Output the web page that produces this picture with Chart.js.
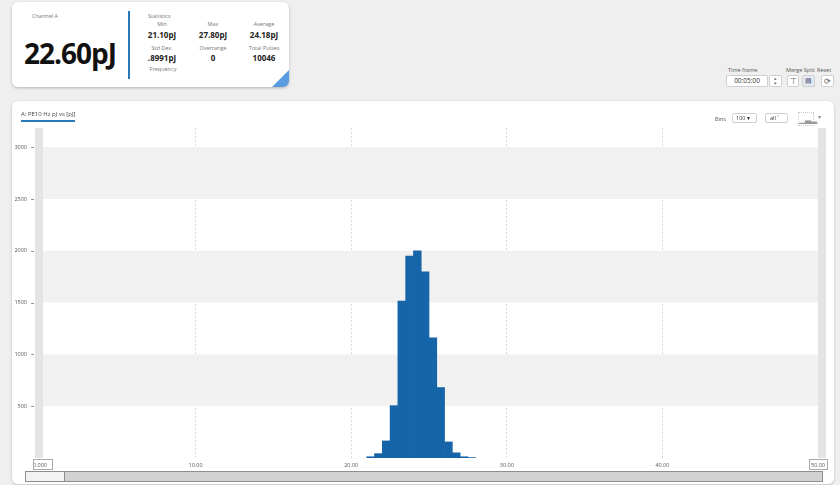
<!DOCTYPE html>
<html>
<head>
<meta charset="utf-8">
<script src="https://cdn.jsdelivr.net/npm/chart.js@4.4.1/dist/chart.umd.min.js"></script>
<style>
  html, body { margin: 0; padding: 0; }
  body { width: 840px; height: 485px; background: #efefef; position: relative; overflow: hidden;
         font-family: "Open Sans", "Noto Sans", sans-serif; color: #333; }
  .abs { position: absolute; }
  .card { left: 12px; top: 2px; width: 277px; height: 85px; background: #fff; border-radius: 6px;
          box-shadow: 0 1px 3px rgba(0,0,0,0.25); overflow: hidden; }
  .lbl { font-size: 5.5px; color: #777; white-space: nowrap; transform: translate(-50%, -50%); }
  .val { font-size: 8px; font-weight: 700; color: #222; white-space: nowrap; transform: translate(-50%, -50%); }
  .big { left: 12px; top: 32px; font-size: 28px; font-weight: 700; color: #111; letter-spacing: -1px; }
  .vbar { left: 116px; top: 9px; width: 2px; height: 68px; background: #2a78b6; }
  .corner { right: 0; bottom: 0; width: 0; height: 0; border-left: 17px solid transparent; border-bottom: 17px solid #5b9be0; }
  .ctl-lbl { font-size: 5.5px; color: #555; white-space: nowrap; }
  .box { background: #fff; border: 1px solid #cfcfcf; border-radius: 2px; box-sizing: border-box; }
  .panel { left: 12px; top: 101px; width: 822px; height: 383px; background: #fff; border-radius: 6px;
           box-shadow: 0 1px 3px rgba(0,0,0,0.2); }
  canvas#hist { position: absolute; left: 0; top: 0; z-index: 2; }
  .over { z-index: 3; }
</style>
</head>
<body>

<!-- summary card -->
<div class="abs card">
  <div class="abs lbl" style="left:20px;top:14px;transform:translate(0,-50%)">Channel A</div>
  <div class="abs big">22.60pJ</div>
  <div class="abs vbar"></div>
  <div class="abs lbl" style="left:136px;top:14px;transform:translate(0,-50%)">Statistics</div>
  <div class="abs lbl" style="left:150px;top:22px">Min</div>
  <div class="abs val" style="left:150px;top:32px">21.10pJ</div>
  <div class="abs lbl" style="left:201px;top:22px">Max</div>
  <div class="abs val" style="left:201px;top:32px">27.80pJ</div>
  <div class="abs lbl" style="left:252px;top:22px">Average</div>
  <div class="abs val" style="left:252px;top:32px">24.18pJ</div>
  <div class="abs lbl" style="left:150px;top:46px">Std Dev.</div>
  <div class="abs val" style="left:150px;top:55px">.8991pJ</div>
  <div class="abs lbl" style="left:201px;top:46px">Overrange</div>
  <div class="abs val" style="left:201px;top:55px">0</div>
  <div class="abs lbl" style="left:252px;top:46px">Total Pulses</div>
  <div class="abs val" style="left:252px;top:55px">10046</div>
  <div class="abs lbl" style="left:151px;top:67px">Frequency</div>
  <div class="abs corner"></div>
</div>

<!-- time frame / merge / reset controls -->
<div class="abs ctl-lbl" style="left:728px;top:66px">Time frame</div>
<div class="abs ctl-lbl" style="left:786px;top:66px">Merge Split</div>
<div class="abs ctl-lbl" style="left:817px;top:66px">Reset</div>
<div class="abs box" style="left:726px;top:75px;width:42px;height:12px;font-size:6.5px;line-height:10px;text-align:center;color:#333">00:05:00</div>
<div class="abs box" style="left:769px;top:75px;width:13px;height:12px;font-size:5px;line-height:5px;text-align:center;color:#777">&#9652;<br>&#9662;</div>
<div class="abs box" style="left:787px;top:75px;width:12px;height:12px;font-size:8px;line-height:10px;text-align:center;color:#555">&#8868;</div>
<div class="abs box" style="left:802px;top:75px;width:13px;height:12px;background:#e3eaf3;font-size:7px;line-height:10px;text-align:center;color:#557">&#9636;</div>
<div class="abs box" style="left:821px;top:75px;width:13px;height:12px;font-size:8px;line-height:10px;text-align:center;color:#555">&#10227;</div>

<!-- histogram panel -->
<div class="abs panel"></div>
<div class="abs ctl-lbl over" style="left:21px;top:110px;font-size:6px;color:#444">A: PE10 Hz pJ vs [pJ]</div>
<div class="abs over" style="left:21px;top:120px;width:54px;height:1.5px;background:#2a78b6"></div>
<div class="abs ctl-lbl over" style="left:715px;top:115px">Bins</div>
<div class="abs box over" style="left:732px;top:113px;width:25px;height:10px;font-size:5.5px;line-height:8px;padding-left:3px;color:#333">100 &#9662;</div>
<div class="abs box over" style="left:765px;top:113px;width:23px;height:10px;font-size:5.5px;line-height:8px;padding-left:4px;color:#333">all &#709;</div>
<div class="abs over" style="left:798px;top:112px;width:16px;height:14px;border:1px dotted #ccc;box-sizing:border-box;font-size:8px;line-height:12px;text-align:center;color:#999">&#9601;&#9603;&#9602;</div>
<div class="abs ctl-lbl over" style="left:818px;top:113px;font-size:6px;color:#888">&#9662;</div>

<!-- horizontal scroll bar under the histogram -->
<div class="abs over" style="left:25px;top:471px;width:798px;height:11px;background:#d2d2d2;border:1px solid #8d8d8d;box-sizing:border-box"></div>
<div class="abs over" style="left:25px;top:471px;width:40px;height:11px;background:#f3f3f3;border:1px solid #8d8d8d;box-sizing:border-box"></div>

<canvas id="hist" width="840" height="485"></canvas>

<script>
// Pulse energy histogram, 0.5 pJ bins
const binWidth = 0.5;
const binStart = [21.0, 21.5, 22.0, 22.5, 23.0, 23.5, 24.0, 24.5, 25.0, 25.5, 26.0, 26.5, 27.0, 27.5];
const counts   = [12, 42, 165, 505, 1515, 1950, 2000, 1796, 1160, 680, 155, 50, 12, 4];
const xTicks   = [0, 10, 20, 30, 40, 50];
const yTicks   = [500, 1000, 1500, 2000, 2500, 3000];
const bandPairs = [[500, 1000], [1500, 2000], [2500, 3000]];

const barPoints = binStart.map((s, i) => ({ x: s + binWidth / 2, y: counts[i] }));

// shaded bands, edge strips and y tick dashes, drawn through the scales
const decor = {
  id: 'decor',
  beforeDatasetsDraw(chart) {
    const { ctx, chartArea: a, scales: { x, y } } = chart;
    ctx.save();
    const x0 = x.getPixelForValue(0), x1 = x.getPixelForValue(50);
    ctx.fillStyle = '#f1f1f1';
    bandPairs.forEach(([lo, hi]) => {
      const yt = y.getPixelForValue(hi), yb = y.getPixelForValue(lo);
      ctx.fillRect(x0 + 3, yt, x1 - x0 - 3, yb - yt);
    });
    ctx.fillStyle = '#e4e4e4';
    ctx.fillRect(x0 - 5, a.top, 8, a.bottom - a.top);
    ctx.fillRect(x1, a.top, 8, a.bottom - a.top);
    ctx.strokeStyle = '#999';
    ctx.lineWidth = 1;
    yTicks.forEach(v => {
      const py = Math.round(y.getPixelForValue(v)) + 0.5;
      ctx.beginPath(); ctx.moveTo(x0 - 9, py); ctx.lineTo(x0 - 6, py); ctx.stroke();
    });
    ctx.restore();
  },
  afterDraw(chart) {
    const { ctx, scales: { x } } = chart;
    ctx.save();
    ctx.strokeStyle = '#aaa';
    ctx.lineWidth = 1;
    const b = x.top + 1;
    const xl = x.getPixelForValue(0), xr = x.getPixelForValue(50);
    ctx.strokeRect(Math.round(xl - 7) + 0.5, b + 0.5, 19, 10);
    ctx.strokeRect(Math.round(xr - 9) + 0.5, b + 0.5, 18, 10);
    ctx.restore();
  }
};

new Chart(document.getElementById('hist'), {
  type: 'bar',
  data: {
    datasets: [{
      data: barPoints,
      backgroundColor: '#1565a8',
      borderWidth: 0,
      barPercentage: 1,
      categoryPercentage: 1
    }]
  },
  options: {
    responsive: false,
    animation: false,
    events: [],
    layout: { padding: { top: 128, right: 22, left: 0, bottom: 0 } },
    plugins: { legend: { display: false }, tooltip: { enabled: false } },
    scales: {
      x: {
        type: 'linear',
        offset: false,
        min: 0, max: 50,
        afterFit(s) { s.height = 27; },
        afterBuildTicks(s) { s.ticks = xTicks.map(v => ({ value: v })); },
        ticks: {
          padding: 4,
          color: '#555',
          font: { size: 5.5, family: 'Open Sans' },
          maxRotation: 0,
          callback: v => v === 0 ? '0.000' : v.toFixed(2)
        },
        grid: {
          offset: false,
          drawTicks: false,
          color: ctx => (ctx.tick && (ctx.tick.value === 0 || ctx.tick.value === 50)) ? 'rgba(0,0,0,0)' : '#dcdcdc'
        },
        border: { display: false, dash: [2, 2] }
      },
      y: {
        min: 0, max: 3185,
        afterFit(s) { s.width = 40; },
        afterBuildTicks(s) { s.ticks = yTicks.map(v => ({ value: v })); },
        ticks: {
          padding: 13,
          color: '#555',
          font: { size: 5.5, family: 'Open Sans' },
          callback: v => String(v)
        },
        grid: { display: false, drawTicks: false },
        border: { display: false }
      }
    }
  },
  plugins: [decor]
});
</script>
</body>
</html>
